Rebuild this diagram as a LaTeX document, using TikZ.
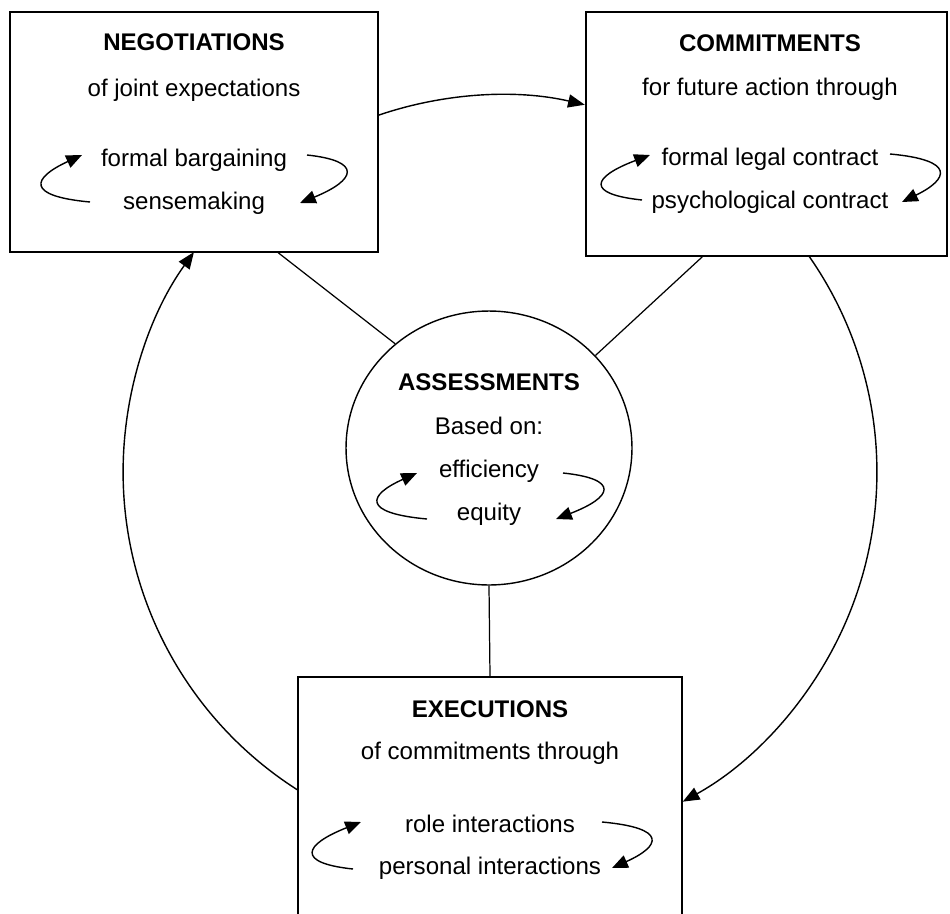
\documentclass[tikz,border=0pt]{standalone}
\usepackage{fontspec}
\setmainfont{Liberation Sans}
\usetikzlibrary{arrows.meta,shapes.geometric,calc}
\begin{document}
\begin{tikzpicture}[x=0.02cm,y=0.02cm,
  box/.style={draw,line width=0.9pt,rectangle,inner sep=0pt},
  lbl/.style={anchor=base,inner sep=0pt,font=\fontsize{13.7}{16}\selectfont},
  ttl/.style={anchor=base,inner sep=0pt,font=\fontsize{13.7}{16}\selectfont\bfseries},
  link/.style={line width=0.7pt},
  bigarrow/.style={line width=0.8pt,-{Triangle[length=9.5pt,width=7.5pt]}},
  cyc/.style={line width=0.8pt,-{Triangle[length=9pt,width=7.5pt]}}]
\useasboundingbox (0,0) rectangle (950,-913);
\clip (0,0) rectangle (950,-913);

% boxes
\node[box,minimum width=7.36cm,minimum height=4.8cm] (neg) at (194,-132) {};
\node[box,minimum width=7.22cm,minimum height=4.88cm] (com) at (766.5,-134) {};
\node[box,minimum width=7.68cm,minimum height=4.88cm] (exe) at (490,-799) {};
\node[draw,ellipse,line width=0.8pt,inner sep=0pt,minimum width=5.72cm,minimum height=5.48cm] (as) at (489,-448) {};

% texts
\node[ttl] (negT) at (194,-50) {NEGOTIATIONS};
\node[lbl] (negA) at (194,-96.7) {of joint expectations};
\node[lbl] (negB) at (194,-166.7) {formal bargaining};
\node[lbl] (negC) at (194,-209) {sensemaking};

\node[ttl] (comT) at (770,-51.7) {COMMITMENTS};
\node[lbl] (comA) at (770,-95) {for future action through};
\node[lbl] (comB) at (770,-165.7) {formal legal contract};
\node[lbl] (comC) at (770,-208) {psychological contract};

\node[ttl] (asT) at (489,-390) {ASSESSMENTS};
\node[lbl] (asA) at (489,-434) {Based on:};
\node[lbl] (asB) at (489,-477) {efficiency};
\node[lbl] (asC) at (489,-520) {equity};

\node[ttl] (exeT) at (490,-717) {EXECUTIONS};
\node[lbl] (exeA) at (490,-759) {of commitments through};
\node[lbl] (exeB) at (490,-832) {role interactions};
\node[lbl] (exeC) at (490,-874) {personal interactions};

% links to the assessment circle
\coordinate (nS) at ($(neg.south west)!0.728!(neg.south east)$);
\coordinate (cS) at ($(com.south west)!0.323!(com.south east)$);
\draw[link] (nS) -- (as.132);
\draw[link] (cS) -- (as.41);
\draw[link] (as.south) -- (exe.north);

% big cycle
\coordinate (O) at (500,-472);
\coordinate (a1) at ($(O)+(109:7.54cm)$);
\coordinate (a2) at ($(O)+(35:7.54cm)$);
\coordinate (a3) at ($(O)+(237.6:7.54cm)$);
\draw[bigarrow] (a1) arc[start angle=109,end angle=77,radius=7.54cm];
\draw[bigarrow] (a2) arc[start angle=35,end angle=-61,radius=7.54cm];
\draw[bigarrow] (a3) arc[start angle=237.6,end angle=144.3,radius=7.54cm];

% small cycles
\draw[cyc] (90,-202) .. controls (25,-196) and (32,-178) .. (82,-155);
\draw[cyc] (307,-155) .. controls (363,-161) and (356,-180) .. (300,-203);
\draw[cyc] (642,-200) .. controls (585,-194) and (592,-177) .. (650,-155);
\draw[cyc] (890,-154) .. controls (956,-160) and (949,-179) .. (902,-202);
\draw[cyc] (427,-519) .. controls (361,-513) and (368,-495) .. (417,-473);
\draw[cyc] (563,-473) .. controls (620,-479) and (613,-497) .. (556,-519);
\draw[cyc] (353,-869) .. controls (296,-863) and (303,-845) .. (361,-822);
\draw[cyc] (602,-822) .. controls (668,-828) and (661,-846) .. (612,-868);
\end{tikzpicture}
\end{document}
